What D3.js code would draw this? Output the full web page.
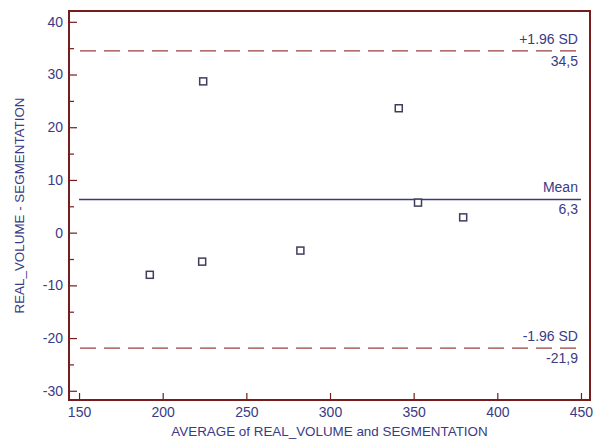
<!DOCTYPE html>
<html>
<head>
<meta charset="utf-8">
<script src="https://cdn.jsdelivr.net/npm/d3@7"></script>
<style>
  body { margin: 0; background: #fff; }
  svg { display: block; }
  text { font-family: "Liberation Sans", Arial, sans-serif; fill: #3a3a86; }
</style>
</head>
<body>
<svg id="chart" width="597" height="441"></svg>
<script>
// Bland-Altman points: mean of the two methods, difference
var averages = [192.3, 223.6, 224.2, 282.3, 341.1, 352.6, 379.6];
var differences = [-8.0, -5.5, 28.7, -3.4, 23.6, 5.7, 2.9];

// reference lines
var refValues = [34.5, 6.3, -21.9];
var refNames = ['+1.96 SD', 'Mean', '-1.96 SD'];
var refLabels = ['34,5', '6,3', '-21,9'];
var refDashed = [true, false, true];

var xTicks = [150, 200, 250, 300, 350, 400, 450];
var yTicks = [-30, -20, -10, 0, 10, 20, 30, 40];
var yMinorTicks = [-25, -15, -5, 5, 15, 25, 35];

var frameColor = '#761c1c',
    dashColor = '#9b3f3f',
    meanColor = '#3b3b7c',
    markColor = '#3e3e5c';

var plotLeft = 69, plotRight = 590, plotTop = 11, plotBottom = 400;

var svg = d3.select('#chart');

var x = d3.scaleLinear().domain([144, 455.4]).range([plotLeft, plotRight]);
var y = d3.scaleLinear().domain([-31.75, 42.05]).range([plotBottom, plotTop]);

// plain hyphen for negatives, like the original
var fmt = function (d) { return String(d); };

function styleAxis(g) {
    g.select('.domain').remove();
    g.selectAll('line').attr('stroke', frameColor).attr('stroke-width', 1.2);
    g.selectAll('text').attr('font-size', 14).attr('fill', '#3a3a86')
        .attr('font-family', '"Liberation Sans", Arial, sans-serif');
}

// minor y ticks
svg.append('g')
    .attr('transform', 'translate(' + plotLeft + ',0)')
    .call(d3.axisLeft(y).tickValues(yMinorTicks).tickSize(-5).tickFormat(''))
    .call(styleAxis);

// major y ticks
svg.append('g')
    .attr('transform', 'translate(' + plotLeft + ',0)')
    .call(d3.axisLeft(y).tickValues(yTicks).tickSize(-8).tickPadding(6).tickFormat(fmt))
    .call(styleAxis);

// x ticks
svg.append('g')
    .attr('transform', 'translate(0,' + plotBottom + ')')
    .call(d3.axisBottom(x).tickValues(xTicks).tickSize(-7).tickPadding(7).tickFormat(fmt))
    .call(styleAxis);

// reference lines
var x0 = x(xTicks[0]), x1 = x(xTicks[xTicks.length - 1]);
refValues.forEach(function (v, i) {
    var yy = y(v);
    svg.append('line')
        .attr('x1', refDashed[i] ? x0 + 1 : x0).attr('x2', x1)
        .attr('y1', yy).attr('y2', yy)
        .attr('stroke', refDashed[i] ? dashColor : meanColor)
        .attr('stroke-width', refDashed[i] ? 1.3 : 1.6)
        .attr('stroke-dasharray', refDashed[i] ? '16,8' : null);
    svg.append('text')
        .attr('x', x1 - 3).attr('y', yy - 7)
        .attr('text-anchor', 'end')
        .attr('font-size', 14)
        .text(refNames[i]);
    svg.append('text')
        .attr('x', x1 - 3).attr('y', yy + 15)
        .attr('text-anchor', 'end')
        .attr('font-size', 14)
        .text(refLabels[i]);
});

// points
var size = 7;
svg.append('g').selectAll('rect')
    .data(averages)
    .enter().append('rect')
    .attr('x', function (d) { return x(d) - size / 2; })
    .attr('y', function (d, i) { return y(differences[i]) - size / 2; })
    .attr('width', size).attr('height', size)
    .attr('fill', '#fff')
    .attr('stroke', markColor)
    .attr('stroke-width', 1.5);

// frame
svg.append('rect')
    .attr('x', plotLeft).attr('y', plotTop)
    .attr('width', plotRight - plotLeft).attr('height', plotBottom - plotTop)
    .attr('fill', 'none')
    .attr('stroke', frameColor)
    .attr('stroke-width', 2);

// axis titles
svg.append('text')
    .attr('x', (plotLeft + plotRight) / 2).attr('y', 436)
    .attr('text-anchor', 'middle')
    .attr('font-size', 13.4)
    .text('AVERAGE of REAL_VOLUME and SEGMENTATION');

svg.append('text')
    .attr('transform', 'translate(24,' + (plotTop + plotBottom) / 2 + ') rotate(-90)')
    .attr('text-anchor', 'middle')
    .attr('font-size', 13.4)
    .text('REAL_VOLUME - SEGMENTATION');
</script>
</body>
</html>
